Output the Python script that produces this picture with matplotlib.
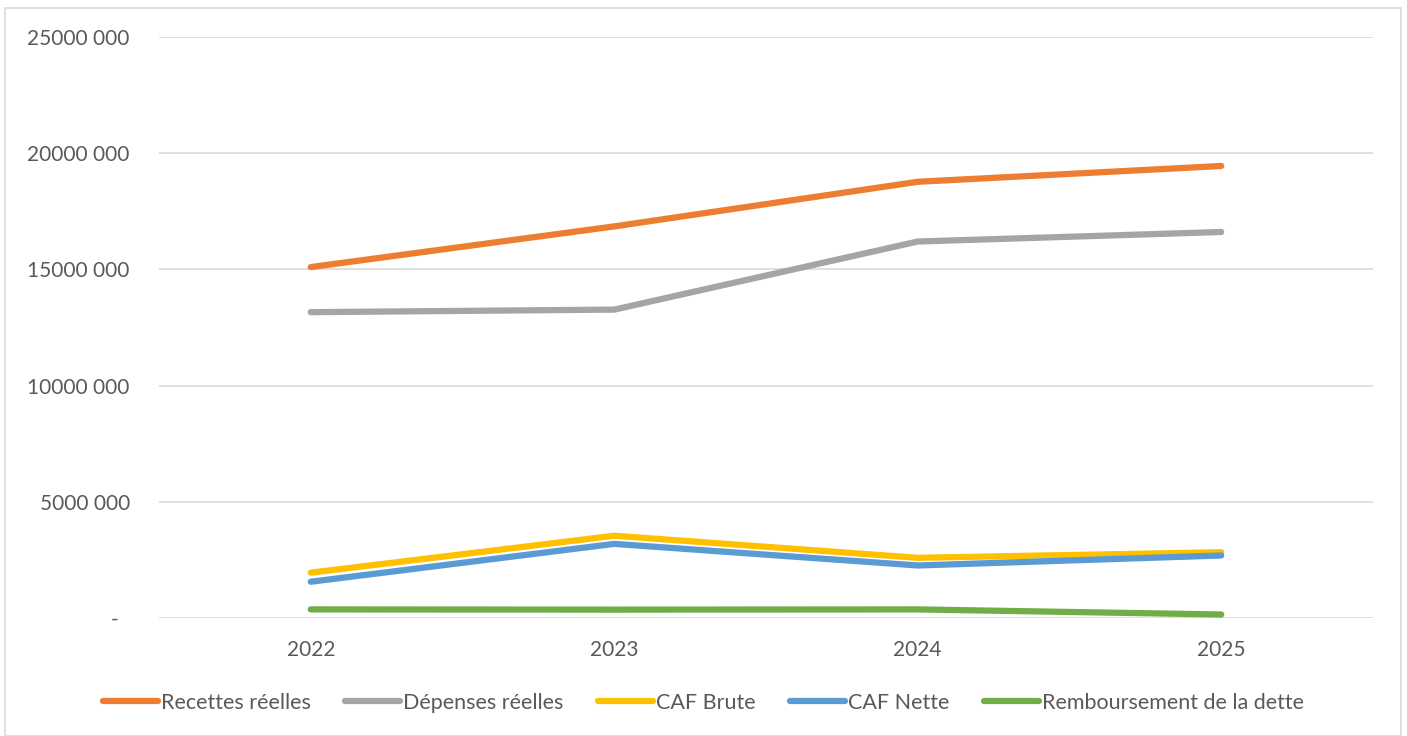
import matplotlib.pyplot as plt
from matplotlib.patches import Rectangle

# Data
years = ['2022', '2023', '2024', '2025']
recettes = [15100000, 16850000, 18770000, 19450000]
depenses = [13160000, 13270000, 16200000, 16610000]
caf_brute = [1950000, 3540000, 2590000, 2830000]
caf_nette = [1560000, 3190000, 2260000, 2690000]
remboursement = [370000, 360000, 370000, 150000]

yticks = [0, 5000000, 10000000, 15000000, 20000000, 25000000]
ytick_labels = ['-  ', '5000 000', '10000 000', '15000 000', '20000 000', '25000 000']

plt.rcParams['font.family'] = ['Lato', 'DejaVu Sans']
text_col = '#595959'

fig = plt.figure(figsize=(14.07, 7.36), dpi=100)
ax = fig.add_axes([159/1407, 1-618/736, (1373-159)/1407, (618-37)/736])

# outer chart frame
fig.patches.append(Rectangle((5/1407, 0), 1396/1407, 1-8/736, transform=fig.transFigure,
                             fill=False, edgecolor='#D9D9D9', lw=1.2))

x = range(len(years))
series = [(recettes, 'Recettes réelles', '#ED7D31'),
          (depenses, 'Dépenses réelles', '#A5A5A5'),
          (caf_brute, 'CAF Brute', '#FFC000'),
          (caf_nette, 'CAF Nette', '#5B9BD5'),
          (remboursement, 'Remboursement de la dette', '#70AD47')]
for vals, name, col in series:
    ax.plot(x, vals, color=col, lw=4.5, label=name,
            solid_capstyle='round', solid_joinstyle='round')

ax.set_xlim(-0.5, 3.5)
ax.set_ylim(0, 25000000)
ax.set_xticks(list(x))
ax.set_xticklabels(years)
ax.set_yticks(yticks)
ax.set_yticklabels(ytick_labels)
ax.tick_params(axis='y', length=0, pad=21, labelsize=15, labelcolor=text_col)
ax.tick_params(axis='x', length=0, pad=16, labelsize=15, labelcolor=text_col)
ax.grid(axis='y', color='#D9D9D9', lw=1.2)
ax.set_axisbelow(True)
for s in ax.spines.values():
    s.set_visible(False)

leg = ax.legend(loc='center', bbox_to_anchor=(0.5, 1-703/736), bbox_transform=fig.transFigure,
                ncol=5, frameon=False, fontsize=15.5, handlelength=2.55, handletextpad=0.15,
                columnspacing=1.6)
for t in leg.get_texts():
    t.set_color(text_col)

plt.savefig('out.png', dpi=100)
